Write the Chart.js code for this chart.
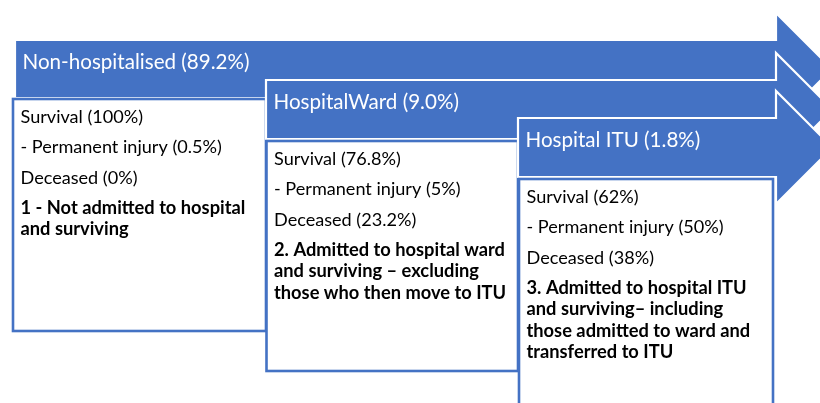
<!DOCTYPE html>
<html>
<head>
<meta charset="utf-8">
<script src="https://cdn.jsdelivr.net/npm/chart.js@4/dist/chart.umd.min.js"></script>
<style>
html,body{margin:0;padding:0;background:#fff;}
canvas{display:block;}
</style>
</head>
<body>
<canvas id="c" width="820" height="403"></canvas>
<script>
// ---- data ----
const stageNames = ['Non-hospitalised', 'HospitalWard', 'Hospital ITU'];
const stageShares = ['89.2', '9.0', '1.8'];
const survival = ['100', '76.8', '62'];
const permanentInjury = ['0.5', '5', '50'];
const deceased = ['0', '23.2', '38'];
const outcomes = [
  ['1 - Not admitted to hospital', 'and surviving'],
  ['2. Admitted to hospital ward', 'and surviving \u2013 excluding', 'those who then move to ITU'],
  ['3. Admitted to hospital ITU', 'and surviving\u2013 including', 'those admitted to ward and', 'transferred to ITU']
];

// ---- layout (diagram units on the chart's scales) ----
const arrowLeft = [15, 266, 518];
const arrowTop = [40, 80, 118];
const arrowBottom = [98, 139, 177];
const headX = 776;
const headExtra = 27;
const boxLeft = [13, 266.5, 519];
const boxRight = [266, 518, 773];
const boxTop = [99, 141, 179];
const boxBottom = [331, 371, 420];

const BLUE = '#4472C4';
const FONT = 'Lato, "Open Sans", sans-serif';

const diagramPlugin = {
  id: 'diagram',
  afterDatasetsDraw(chart) {
    const ctx = chart.ctx;
    const xs = chart.scales.x, ys = chart.scales.y;
    const X = v => xs.getPixelForValue(v);
    const Y = v => ys.getPixelForValue(v);
    ctx.save();
    for (let i = 0; i < stageNames.length; i++) {
      // arrow
      const t = arrowTop[i], b = arrowBottom[i];
      const mid = (t + b) / 2;
      const half = (b - t) / 2 + headExtra;
      ctx.beginPath();
      ctx.moveTo(X(arrowLeft[i]), Y(t));
      ctx.lineTo(X(headX), Y(t));
      ctx.lineTo(X(headX), Y(t - headExtra));
      ctx.lineTo(X(headX + half), Y(mid));
      ctx.lineTo(X(headX), Y(b + headExtra));
      ctx.lineTo(X(headX), Y(b));
      ctx.lineTo(X(arrowLeft[i]), Y(b));
      ctx.closePath();
      ctx.fillStyle = BLUE;
      ctx.fill();
      ctx.lineWidth = 2.2;
      ctx.strokeStyle = '#ffffff';
      ctx.stroke();
      // header text
      ctx.fillStyle = '#ffffff';
      ctx.font = '20.6px ' + FONT;
      ctx.textBaseline = 'alphabetic';
      ctx.textAlign = 'left';
      ctx.fillText(stageNames[i] + ' (' + stageShares[i] + '%)', X(arrowLeft[i] + 7.5), Y(t + 28.5));

      // box
      ctx.fillStyle = '#ffffff';
      ctx.fillRect(X(boxLeft[i]), Y(boxTop[i]), X(boxRight[i]) - X(boxLeft[i]), Y(boxBottom[i]) - Y(boxTop[i]));
      ctx.lineWidth = 2.6;
      ctx.strokeStyle = BLUE;
      ctx.strokeRect(X(boxLeft[i]), Y(boxTop[i]), X(boxRight[i]) - X(boxLeft[i]), Y(boxBottom[i]) - Y(boxTop[i]));

      // box text
      const tx = X(boxLeft[i] + 7.5);
      const lines = [
        'Survival (' + survival[i] + '%)',
        '- Permanent injury (' + permanentInjury[i] + '%)',
        'Deceased (' + deceased[i] + '%)'
      ];
      ctx.fillStyle = '#000000';
      ctx.font = '18.1px ' + FONT;
      let base = boxTop[i] + 24;
      lines.forEach((s, k) => {
        ctx.fillText(s, tx, Y(base + k * 30.3));
      });
      ctx.font = 'bold 18.3px ' + FONT;
      base = base + 3 * 30.3;
      outcomes[i].forEach((s, k) => {
        ctx.fillText(s, tx, Y(base + k * 21.5));
      });
    }
    ctx.restore();
  }
};

new Chart(document.getElementById('c'), {
  type: 'scatter',
  data: { datasets: [{ data: [], pointRadius: 0 }] },
  options: {
    responsive: false,
    animation: false,
    devicePixelRatio: 1,
    layout: { padding: 0 },
    plugins: { legend: { display: false }, tooltip: { enabled: false } },
    scales: {
      x: { type: 'linear', min: 0, max: 820, display: false },
      y: { type: 'linear', min: 0, max: 403, reverse: true, display: false }
    }
  },
  plugins: [diagramPlugin]
});
</script>
</body>
</html>
